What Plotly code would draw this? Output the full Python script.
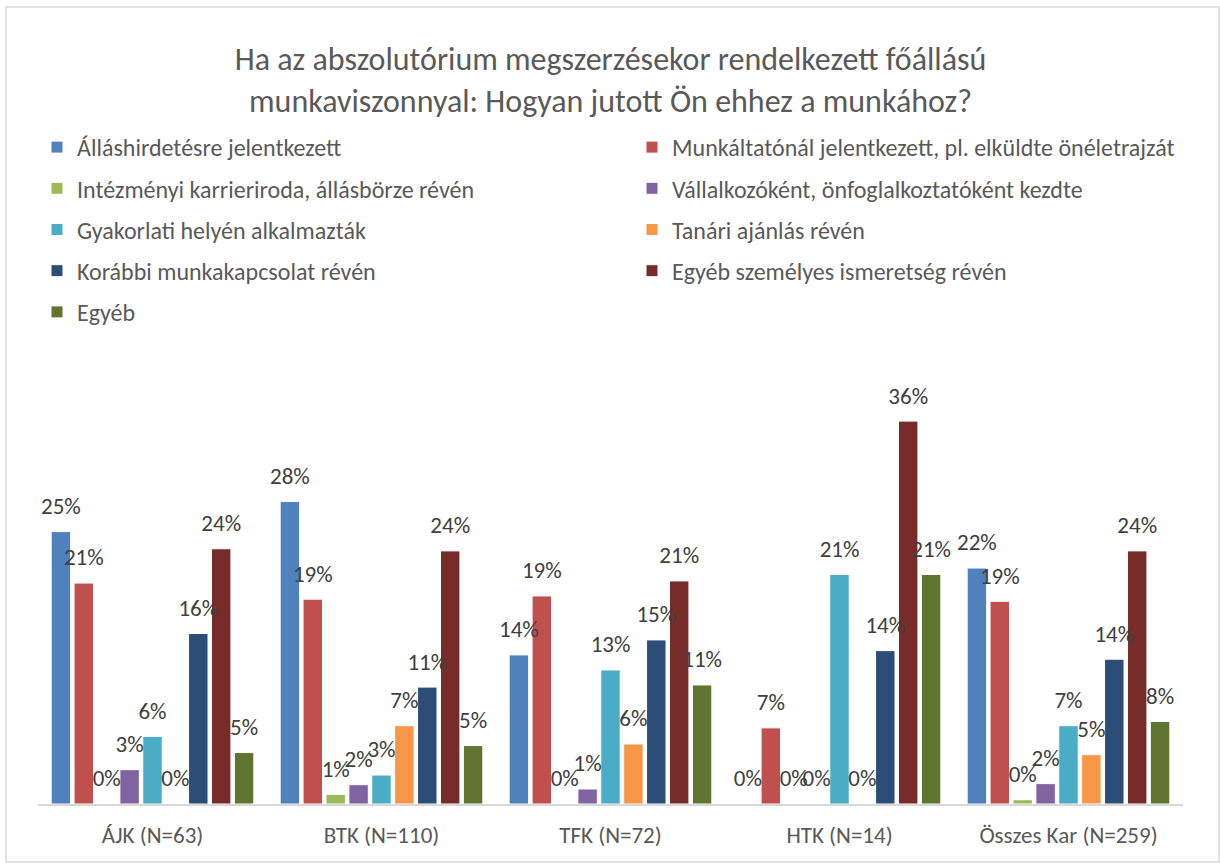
import plotly.graph_objects as go

categories = ["ÁJK (N=63)", "BTK (N=110)", "TFK (N=72)", "HTK (N=14)", "Összes Kar (N=259)"]

series_names = [
    "Álláshirdetésre jelentkezett",
    "Munkáltatónál jelentkezett, pl. elküldte önéletrajzát",
    "Intézményi karrieriroda, állásbörze révén",
    "Vállalkozóként, önfoglalkoztatóként kezdte",
    "Gyakorlati helyén alkalmazták",
    "Tanári ajánlás révén",
    "Korábbi munkakapcsolat révén",
    "Egyéb személyes ismeretség révén",
    "Egyéb",
]

allashirdetes = [25.4, 28.2, 13.9, 0.0, 22.0]
munkaltato = [20.6, 19.1, 19.4, 7.1, 18.9]
karrieriroda = [0.0, 0.9, 0.0, 0.0, 0.4]
vallalkozo = [3.2, 1.8, 1.4, 0.0, 1.9]
gyakorlati = [6.3, 2.7, 12.5, 21.4, 7.3]
tanari = [0.0, 7.3, 5.6, 0.0, 4.6]
korabbi = [15.9, 10.9, 15.3, 14.3, 13.5]
szemelyes = [23.8, 23.6, 20.8, 35.7, 23.6]
egyeb = [4.8, 5.45, 11.1, 21.4, 7.7]

series_values = [allashirdetes, munkaltato, karrieriroda, vallalkozo, gyakorlati,
                 tanari, korabbi, szemelyes, egyeb]

colors = ["#4F81BD", "#C0504D", "#9BBB59", "#8064A2", "#4BACC6",
          "#F79646", "#2C4D75", "#772C2A", "#5F7530"]

FONT = "Carlito, Calibri, Lato, sans-serif"
W, H = 1220, 863
ML, MR, MT, MB = 38, 37, 375, 59
PW = W - ML - MR
PH = H - MT - MB
Y_MAX = 40
LABEL_PAD = 0.8  # extra gap (data units) between bar top and its label


def pct_label(v):
    return f"{int(v + 0.5)}%"


fig = go.Figure()
for i, (name, vals, col) in enumerate(zip(series_names, series_values, colors)):
    fig.add_trace(go.Bar(
        x=categories, y=vals, name=name,
        offsetgroup=str(i),
        marker=dict(color=col, line=dict(color="white", width=1)),
        legend="legend" if i % 2 == 0 else "legend2",
        legendgroup=f"g{i}",
        hovertemplate="%{x}<br>" + name + ": %{y:.1f}%<extra></extra>",
    ))

# data labels: transparent companion bars sharing each series' slot
for i, vals in enumerate(series_values):
    fig.add_trace(go.Bar(
        x=categories, y=[v + LABEL_PAD for v in vals],
        offsetgroup=str(i),
        marker=dict(color="rgba(0,0,0,0)", line=dict(width=0)),
        text=[pct_label(v) for v in vals],
        textposition="outside",
        constraintext="none",
        textfont=dict(family=FONT, size=23, color="#404040"),
        cliponaxis=False,
        showlegend=False,
        hoverinfo="skip",
    ))


def px_x(px):
    return (px - ML) / PW


def px_y(py):
    return (H - MB - py) / PH


legend_common = dict(
    font=dict(family=FONT, size=24, color="#595959"),
    bgcolor="rgba(0,0,0,0)",
    orientation="v",
    tracegroupgap=7,
    xanchor="left", yanchor="top",
    itemclick=False, itemdoubleclick=False,
)

fig.update_layout(
    width=W, height=H,
    margin=dict(l=ML, r=MR, t=MT, b=MB, autoexpand=False),
    paper_bgcolor="white", plot_bgcolor="white",
    barmode="group", bargap=0.1, bargroupgap=0.15,
    uniformtext=dict(mode=False),
    title=dict(
        text="Ha az abszolutórium megszerzésekor rendelkezett főállású<br>munkaviszonnyal: Hogyan jutott Ön ehhez a munkához?",
        x=0.5, xanchor="center", xref="paper",
        y=1 - 70 / H, yanchor="middle",
        font=dict(family=FONT, size=32, color="#595959"),
    ),
    legend=dict(x=px_x(37), y=px_y(125), **legend_common),
    legend2=dict(x=px_x(632), y=px_y(125), **legend_common),
    xaxis=dict(
        showline=True, linecolor="#D9D9D9", linewidth=1.5,
        ticks="", showgrid=False, ticklabelstandoff=10,
        tickfont=dict(family=FONT, size=23, color="#595959"),
    ),
    yaxis=dict(range=[0, Y_MAX], visible=False, showgrid=False),
    font=dict(family=FONT, color="#595959"),
    shapes=[dict(
        type="rect", xref="paper", yref="paper",
        x0=px_x(6), x1=px_x(1219), y0=px_y(862), y1=px_y(7),
        line=dict(color="#D9D9D9", width=1.5), fillcolor="rgba(0,0,0,0)",
        layer="below",
    )],
)

fig.write_html(
    "out.html",
    config={"displayModeBar": False},
    post_script="document.body.style.margin='0';document.body.style.overflow='hidden';",
)
